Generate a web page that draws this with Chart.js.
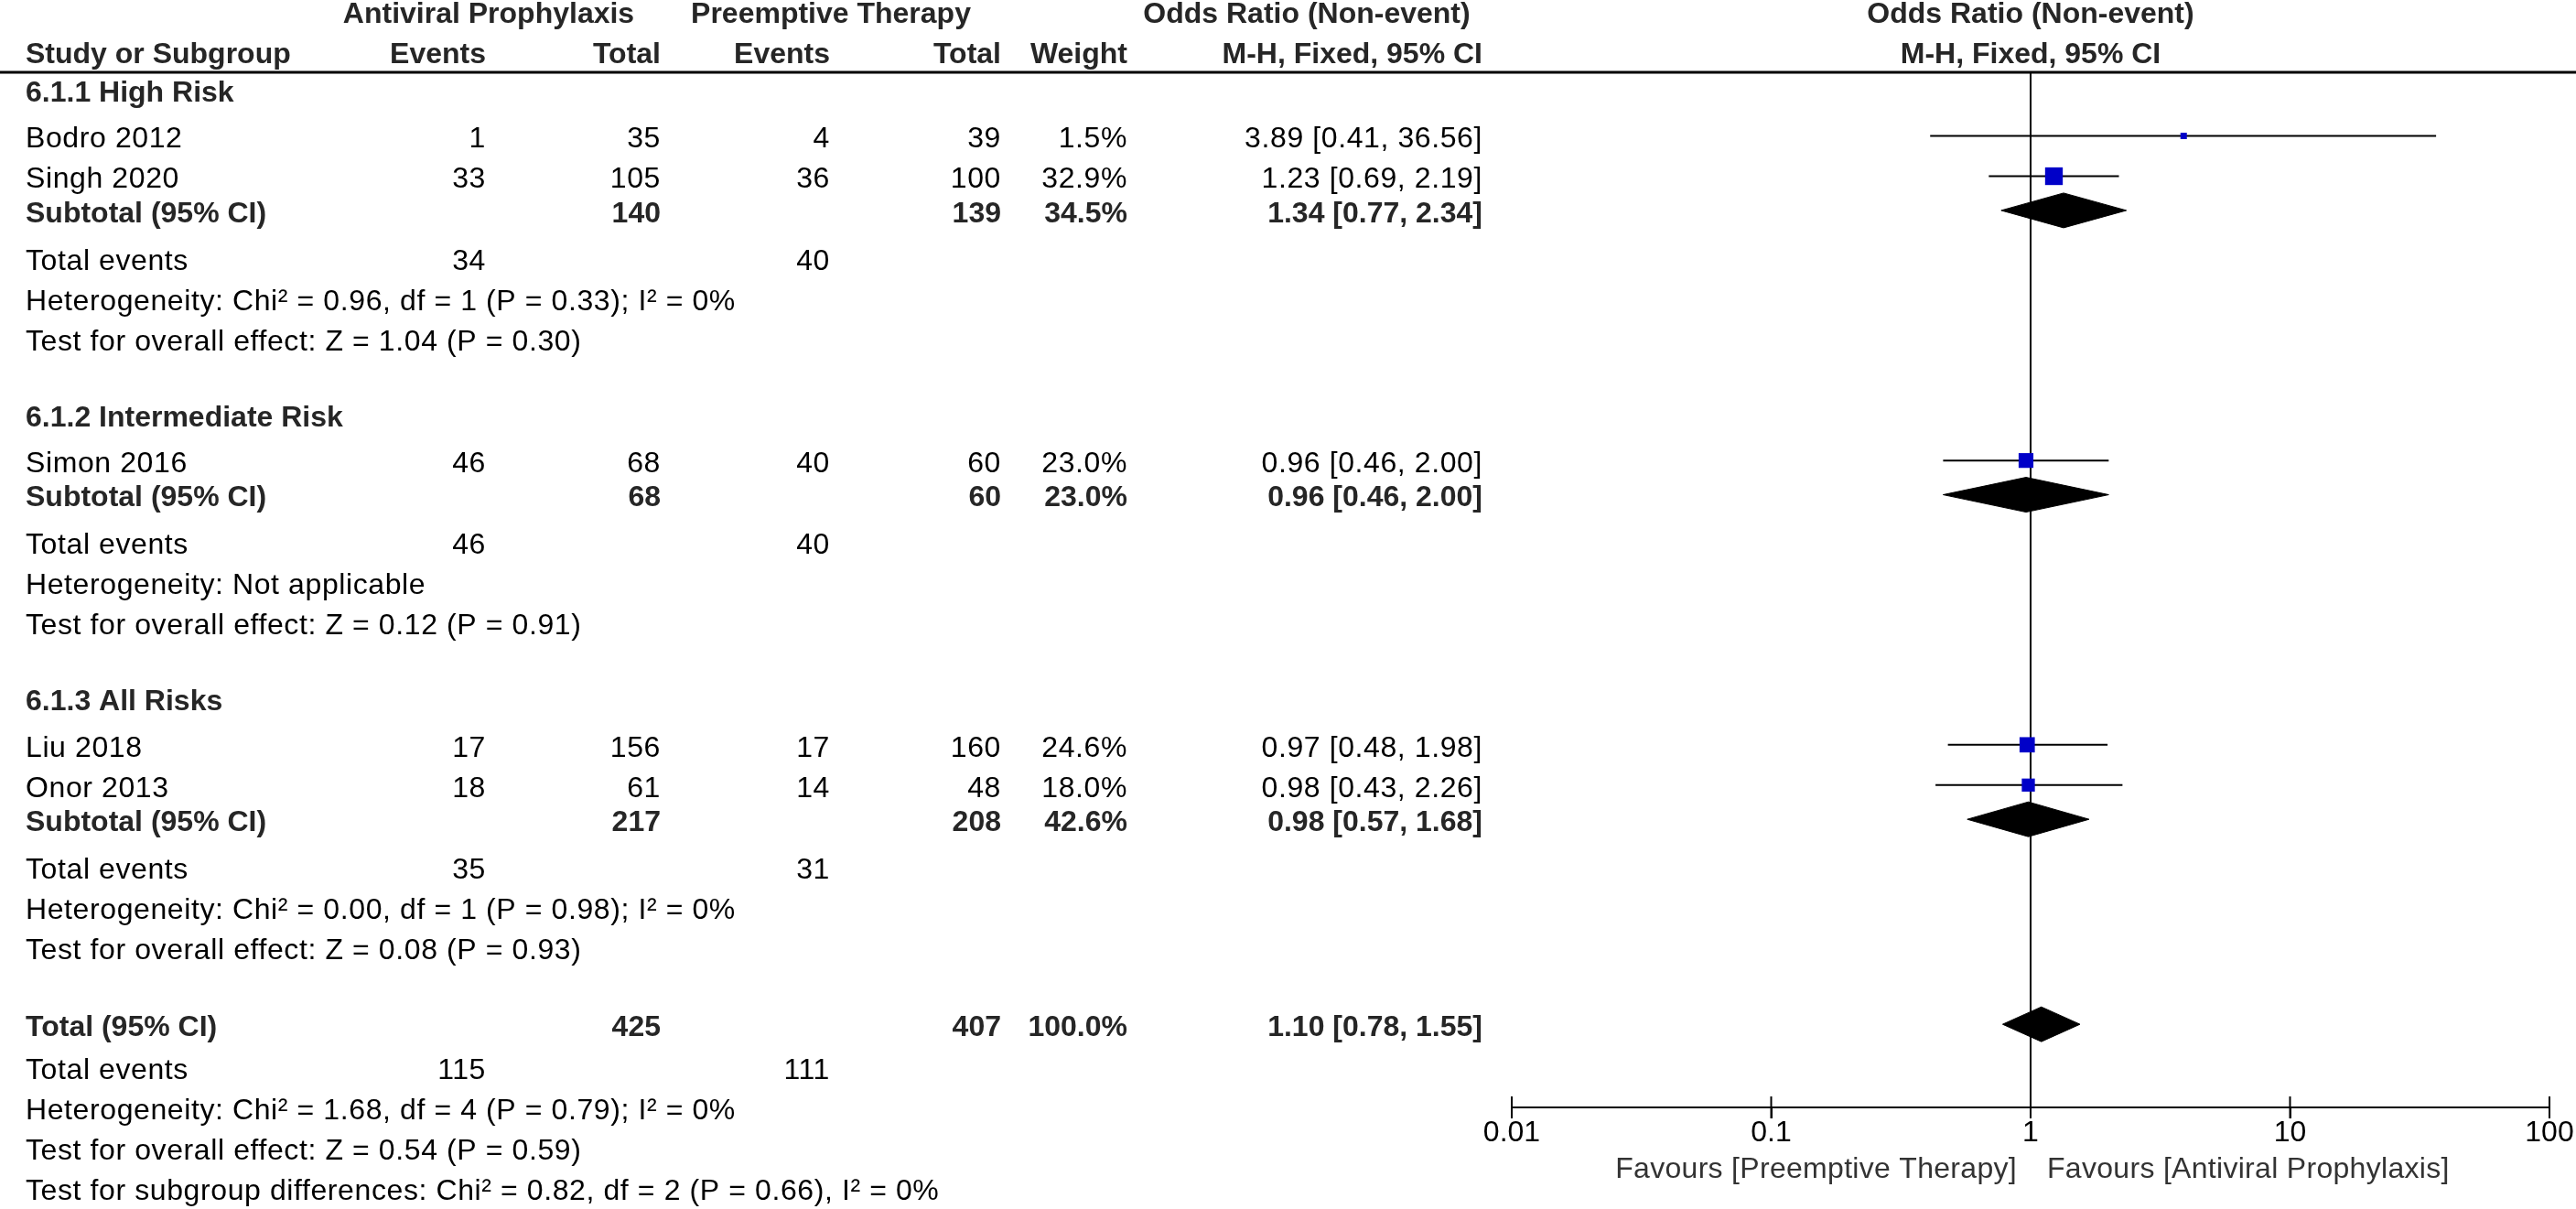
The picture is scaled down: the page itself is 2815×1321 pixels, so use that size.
<!DOCTYPE html>
<html>
<head>
<meta charset="utf-8">
<script src="https://cdn.jsdelivr.net/npm/chart.js@4.4.0/dist/chart.umd.min.js"></script>
<style>
  html, body { margin: 0; padding: 0; background: #fff; }
  canvas { display: block; }
</style>
</head>
<body>
<canvas id="forest" width="2815" height="1321"></canvas>
<script>
// ---- data ----
const studyNames  = ['Bodro 2012', 'Singh 2020', 'Simon 2016', 'Liu 2018', 'Onor 2013'];
const studyGroup  = [0, 0, 1, 2, 2];
const apEvents    = [1, 33, 46, 17, 18];
const apTotal     = [35, 105, 68, 156, 61];
const ptEvents    = [4, 36, 40, 17, 14];
const ptTotal     = [39, 100, 60, 160, 48];
const studyWeight = [1.5, 32.9, 23.0, 24.6, 18.0];
const studyOR     = [3.89, 1.23, 0.96, 0.97, 0.98];
const studyLow    = [0.41, 0.69, 0.46, 0.48, 0.43];
const studyHigh   = [36.56, 2.19, 2.00, 1.98, 2.26];

const groupNames    = ['6.1.1 High Risk', '6.1.2 Intermediate Risk', '6.1.3 All Risks'];
const groupApTotal  = [140, 68, 217];
const groupPtTotal  = [139, 60, 208];
const groupApEvents = [34, 46, 35];
const groupPtEvents = [40, 40, 31];
const groupWeight   = [34.5, 23.0, 42.6];
const groupOR       = [1.34, 0.96, 0.98];
const groupLow      = [0.77, 0.46, 0.57];
const groupHigh     = [2.34, 2.00, 1.68];
const groupHet = [
  'Heterogeneity: Chi\u00b2 = 0.96, df = 1 (P = 0.33); I\u00b2 = 0%',
  'Heterogeneity: Not applicable',
  'Heterogeneity: Chi\u00b2 = 0.00, df = 1 (P = 0.98); I\u00b2 = 0%'
];
const groupTest = [
  'Test for overall effect: Z = 1.04 (P = 0.30)',
  'Test for overall effect: Z = 0.12 (P = 0.91)',
  'Test for overall effect: Z = 0.08 (P = 0.93)'
];

const totalCounts = [425, 407];      // antiviral, preemptive
const totalEvents = [115, 111];
const totalWeight = 100.0;
const totalOR     = [1.10, 0.78, 1.55]; // estimate, low, high
const totalNotes = [
  'Heterogeneity: Chi\u00b2 = 1.68, df = 4 (P = 0.79); I\u00b2 = 0%',
  'Test for overall effect: Z = 0.54 (P = 0.59)',
  'Test for subgroup differences: Chi\u00b2 = 0.82, df = 2 (P = 0.66), I\u00b2 = 0%'
];

const tickValues = [0.01, 0.1, 1, 10, 100];
const tickLabels = ['0.01', '0.1', '1', '10', '100'];
const favoursLeft  = 'Favours [Preemptive Therapy]';
const favoursRight = 'Favours [Antiviral Prophylaxis]';

// ---- layout ----
const FONT = '"Liberation Sans", Arial, Helvetica, sans-serif';
const FS = 32;
const LINE = 44;              // px per table line
const TOP = 79, AXIS_Y = 1210; // header rule and x axis
const yMax = (AXIS_Y - TOP) / LINE;
const DIAMOND_HALF = 19 / LINE;
const TEXT_NUDGE = 4;

// columns (right edges unless noted)
const COL_NAME = 28, COL_APE = 531, COL_APT = 722, COL_PTE = 907, COL_PTT = 1094, COL_W = 1232, COL_OR = 1620;

// table rows, positions in "lines" below the header rule
const rows = [];
let pos = 0.44;
const push = (gap, row) => { pos += gap; row.pos = pos; rows.push(row); };
groupNames.forEach((g, gi) => {
  push(gi === 0 ? 0 : 1.89, { kind: 'heading', g: gi });
  let first = true;
  studyGroup.forEach((sg, si) => {
    if (sg !== gi) return;
    push(first ? 1.14 : 1, { kind: 'study', s: si });
    first = false;
  });
  push(0.85, { kind: 'subtotal', g: gi });
  push(1.18, { kind: 'events', a: groupApEvents[gi], b: groupPtEvents[gi] });
  push(1, { kind: 'note', text: groupHet[gi] });
  push(1, { kind: 'note', text: groupTest[gi] });
});
push(1.91, { kind: 'total' });
push(1.07, { kind: 'events', a: totalEvents[0], b: totalEvents[1] });
totalNotes.forEach(t => push(1, { kind: 'note', text: t }));

const fmtCI = (e, l, h) => e.toFixed(2) + ' [' + l.toFixed(2) + ', ' + h.toFixed(2) + ']';

// ---- datasets ----
const datasets = [];
const studyRows = rows.filter(r => r.kind === 'study');

studyRows.forEach(r => datasets.push({
  data: [{ x: studyLow[r.s], y: r.pos }, { x: studyHigh[r.s], y: r.pos }],
  showLine: true, borderColor: '#000', borderWidth: 2, pointRadius: 0, order: 3
}));

datasets.push({
  data: studyRows.map(r => ({ x: studyOR[r.s], y: r.pos })),
  pointStyle: 'rect',
  pointRadius: studyRows.map(r => Math.max(3.37 * Math.sqrt(studyWeight[r.s]), 7) / Math.SQRT2),
  pointBackgroundColor: '#0000c8', pointBorderWidth: 0, order: 1
});

function addDiamond(p, est, lo, hi) {
  datasets.push({
    data: [{ x: lo, y: p }, { x: est, y: p - DIAMOND_HALF }, { x: hi, y: p }],
    showLine: true, fill: '+1', backgroundColor: '#000', borderColor: '#000',
    borderWidth: 1, pointRadius: 0, order: 2
  });
  datasets.push({
    data: [{ x: lo, y: p }, { x: est, y: p + DIAMOND_HALF }, { x: hi, y: p }],
    showLine: true, fill: false, borderColor: '#000', borderWidth: 1, pointRadius: 0, order: 2
  });
}
rows.filter(r => r.kind === 'subtotal').forEach(r => addDiamond(r.pos, groupOR[r.g], groupLow[r.g], groupHigh[r.g]));
rows.filter(r => r.kind === 'total').forEach(r => addDiamond(r.pos, totalOR[0], totalOR[1], totalOR[2]));

// tick marks reaching above the axis line
datasets.push({
  data: tickValues.map(v => ({ x: v, y: yMax })),
  pointStyle: 'line', pointRotation: 90, pointRadius: 12,
  pointBorderColor: '#000', pointBorderWidth: 2, clip: false, order: 0
});

// ---- table text ----
const tablePlugin = {
  id: 'forestTable',
  afterDraw(chart) {
    const { ctx, scales: { x, y } } = chart;
    const mid = x.getPixelForValue(1);
    const put = (s, px, p, align, bold, color) => {
      ctx.font = (bold ? 'bold ' : '') + FS + 'px ' + FONT;
      ctx.letterSpacing = bold ? '0px' : '0.6px';
      ctx.fillStyle = color || (bold ? '#262626' : '#000');
      ctx.textAlign = align;
      ctx.textBaseline = 'middle';
      ctx.fillText(s, px, y.getPixelForValue(p) + TEXT_NUDGE);
    };
    ctx.save();

    // header
    const h1 = -1.52, h2 = -0.52;
    put('Antiviral Prophylaxis', 534, h1, 'center', true);
    put('Preemptive Therapy', 908, h1, 'center', true);
    put('Odds Ratio (Non-event)', 1428, h1, 'center', true);
    put('Odds Ratio (Non-event)', mid, h1, 'center', true);
    put('Study or Subgroup', COL_NAME, h2, 'left', true);
    put('Events', COL_APE, h2, 'right', true);
    put('Total', COL_APT, h2, 'right', true);
    put('Events', COL_PTE, h2, 'right', true);
    put('Total', COL_PTT, h2, 'right', true);
    put('Weight', COL_W, h2, 'right', true);
    put('M-H, Fixed, 95% CI', COL_OR, h2, 'right', true);
    put('M-H, Fixed, 95% CI', mid, h2, 'center', true);

    ctx.strokeStyle = '#000';
    ctx.lineWidth = 3;
    ctx.beginPath();
    ctx.moveTo(0, y.getPixelForValue(0));
    ctx.lineTo(chart.width, y.getPixelForValue(0));
    ctx.stroke();

    rows.forEach(r => {
      if (r.kind === 'heading') {
        put(groupNames[r.g], COL_NAME, r.pos, 'left', true);
      } else if (r.kind === 'study') {
        const s = r.s;
        put(studyNames[s], COL_NAME, r.pos, 'left');
        put(String(apEvents[s]), COL_APE, r.pos, 'right');
        put(String(apTotal[s]), COL_APT, r.pos, 'right');
        put(String(ptEvents[s]), COL_PTE, r.pos, 'right');
        put(String(ptTotal[s]), COL_PTT, r.pos, 'right');
        put(studyWeight[s].toFixed(1) + '%', COL_W, r.pos, 'right');
        put(fmtCI(studyOR[s], studyLow[s], studyHigh[s]), COL_OR, r.pos, 'right');
      } else if (r.kind === 'subtotal') {
        const g = r.g;
        put('Subtotal (95% CI)', COL_NAME, r.pos, 'left', true);
        put(String(groupApTotal[g]), COL_APT, r.pos, 'right', true);
        put(String(groupPtTotal[g]), COL_PTT, r.pos, 'right', true);
        put(groupWeight[g].toFixed(1) + '%', COL_W, r.pos, 'right', true);
        put(fmtCI(groupOR[g], groupLow[g], groupHigh[g]), COL_OR, r.pos, 'right', true);
      } else if (r.kind === 'events') {
        put('Total events', COL_NAME, r.pos, 'left');
        put(String(r.a), COL_APE, r.pos, 'right');
        put(String(r.b), COL_PTE, r.pos, 'right');
      } else if (r.kind === 'note') {
        put(r.text, COL_NAME, r.pos, 'left');
      } else if (r.kind === 'total') {
        put('Total (95% CI)', COL_NAME, r.pos, 'left', true);
        put(String(totalCounts[0]), COL_APT, r.pos, 'right', true);
        put(String(totalCounts[1]), COL_PTT, r.pos, 'right', true);
        put(totalWeight.toFixed(1) + '%', COL_W, r.pos, 'right', true);
        put(fmtCI(totalOR[0], totalOR[1], totalOR[2]), COL_OR, r.pos, 'right', true);
      }
    });

    // favours labels under the axis
    ctx.font = FS + 'px ' + FONT;
    ctx.letterSpacing = '0.3px';
    ctx.fillStyle = '#333';
    ctx.textBaseline = 'middle';
    const fy = chart.chartArea.bottom + 68;
    ctx.textAlign = 'right';
    ctx.fillText(favoursLeft, mid - 15, fy);
    ctx.textAlign = 'left';
    ctx.fillText(favoursRight, mid + 18, fy);
    ctx.restore();
  }
};

Chart.defaults.font.family = FONT;

new Chart(document.getElementById('forest'), {
  type: 'scatter',
  data: { datasets },
  options: {
    responsive: false,
    devicePixelRatio: 1,
    animation: false,
    events: [],
    layout: { padding: { left: 1652, right: 29, top: TOP, bottom: 0 } },
    plugins: { legend: { display: false }, tooltip: { enabled: false } },
    scales: {
      x: {
        type: 'logarithmic',
        min: 0.01,
        max: 100,
        afterBuildTicks: scale => { scale.ticks = tickValues.map(v => ({ value: v })); },
        afterFit: scale => { scale.height = 1321 - AXIS_Y; },
        ticks: {
          autoSkip: false,
          maxRotation: 0,
          padding: 0,
          color: '#000',
          font: { size: FS, lineHeight: 1.0 },
          callback: (v, i) => tickLabels[i]
        },
        grid: {
          color: c => (c.tick && c.tick.value === 1 ? '#000' : 'rgba(0,0,0,0)'),
          lineWidth: 2,
          drawTicks: true,
          tickLength: 12,
          tickColor: '#000',
          tickWidth: 2
        },
        border: { display: true, color: '#000', width: 2 }
      },
      y: {
        type: 'linear',
        reverse: true,
        min: 0,
        max: yMax,
        display: false
      }
    }
  },
  plugins: [tablePlugin]
});
</script>
</body>
</html>
